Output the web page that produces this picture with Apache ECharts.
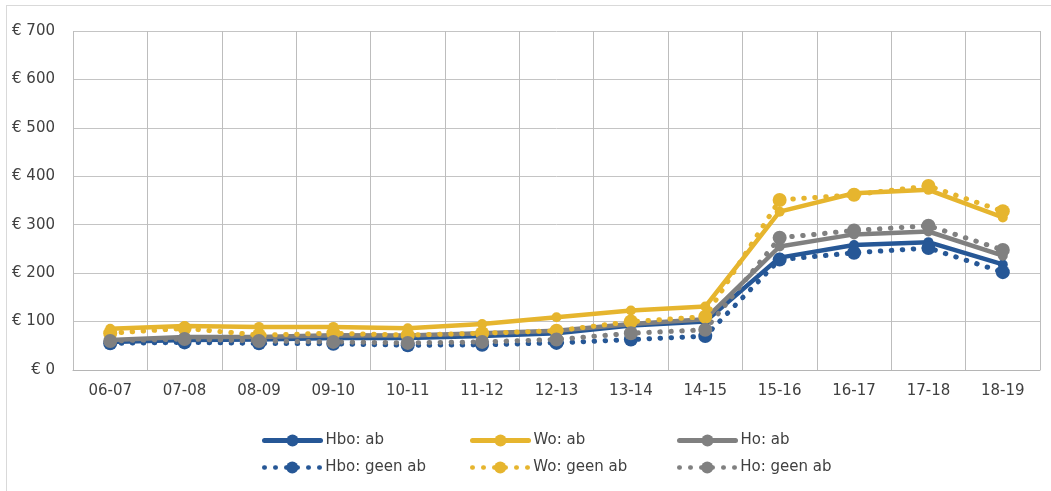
<!DOCTYPE html>
<html><head><meta charset="utf-8">
<script src="https://cdn.jsdelivr.net/npm/echarts@6/dist/echarts.min.js"></script>
<style>
html,body{margin:0;padding:0;background:#fff;}
#frame{position:absolute;left:6px;top:5px;width:1050px;height:490px;border:1px solid #d9d9d9;box-sizing:border-box;}
#c{position:absolute;left:0;top:0;width:1051px;height:491px;}
</style></head>
<body><div id="frame"></div><div id="c"></div>
<script>
const categories = ['06-07','07-08','08-09','09-10','10-11','11-12','12-13','13-14','14-15','15-16','16-17','17-18','18-19'];
const hboAb     = [58, 62, 63, 66, 66, 70, 76, 92, 100, 232, 258, 264, 218];
const woAb      = [85, 91, 89, 89, 86, 95, 109, 123, 131, 327, 365, 372, 315];
const hoAb      = [62, 68, 68, 72, 71, 76, 81, 95, 105, 255, 280, 286, 236];
const hboGeenAb = [55, 57, 55, 54, 51, 52, 56, 63, 70, 228, 242, 252, 202];
const woGeenAb  = [76, 86, 72, 76, 72, 76, 81, 100, 110, 351, 362, 380, 328];
const hoGeenAb  = [60, 64, 60, 58, 56, 58, 63, 76, 83, 273, 288, 298, 248];
const yTicks = [0, 100, 200, 300, 400, 500, 600, 700];

const BLUE = '#265796', YEL = '#E6B52E', GREY = '#808080';
const FONT = 'DejaVu Sans';

function solid(name, data, color){
  return {name, type:'line', data, symbol:'circle', symbolSize:10,
    lineStyle:{color, width:4.5, cap:'round', join:'round'}, itemStyle:{color}, z:2};
}
function dotted(name, data, color){
  return {name, type:'line', data, symbol:'circle', symbolSize:14,
    lineStyle:{color, width:5, type:[0.5,10.5], cap:'round'}, itemStyle:{color}, z:3};
}
const series = [
  solid('Hbo: ab', hboAb, BLUE),
  solid('Wo: ab', woAb, YEL),
  solid('Ho: ab', hoAb, GREY),
  dotted('Hbo: geen ab', hboGeenAb, BLUE),
  dotted('Wo: geen ab', woGeenAb, YEL),
  dotted('Ho: geen ab', hoGeenAb, GREY)
];
const legPos = [[257,428],[465,428],[672,428],[257,455],[465,455],[672,455]];
const legends = series.map((s,i)=>({
  data:[s.name], left:legPos[i][0], top:legPos[i][1], itemWidth:56, itemHeight:15, itemGap:6,
  lineStyle:{width: i < 3 ? 5 : 4.5},
  textStyle:{fontFamily:FONT, fontSize:15, color:'#404040'}, selectedMode:false
}));

const chart = echarts.init(document.getElementById('c'), null, {renderer:'canvas'});
chart.setOption({
  animation:false,
  backgroundColor:'transparent',
  grid:{left:73, right:11, top:31, bottom:121, containLabel:false},
  legend: legends,
  xAxis:{type:'category', data:categories, boundaryGap:true,
    axisLine:{show:true, lineStyle:{color:'#b5b5b5', width:1}},
    axisTick:{show:false},
    splitLine:{show:true, interval:0, lineStyle:{color:'#bdbdbd', width:1}},
    axisLabel:{interval:0, fontFamily:FONT, fontSize:15, color:'#404040', margin:14}
  },
  yAxis:{type:'value', min:0, max:700, interval:100,
    axisLine:{show:false}, axisTick:{show:false},
    splitLine:{lineStyle:{color:'#c4c4c4', width:1}},
    axisLabel:{fontFamily:FONT, fontSize:15, color:'#404040', margin:18,
      formatter:v=> yTicks.includes(v) ? '€ ' + v : ''}
  },
  series
});
</script></body></html>
